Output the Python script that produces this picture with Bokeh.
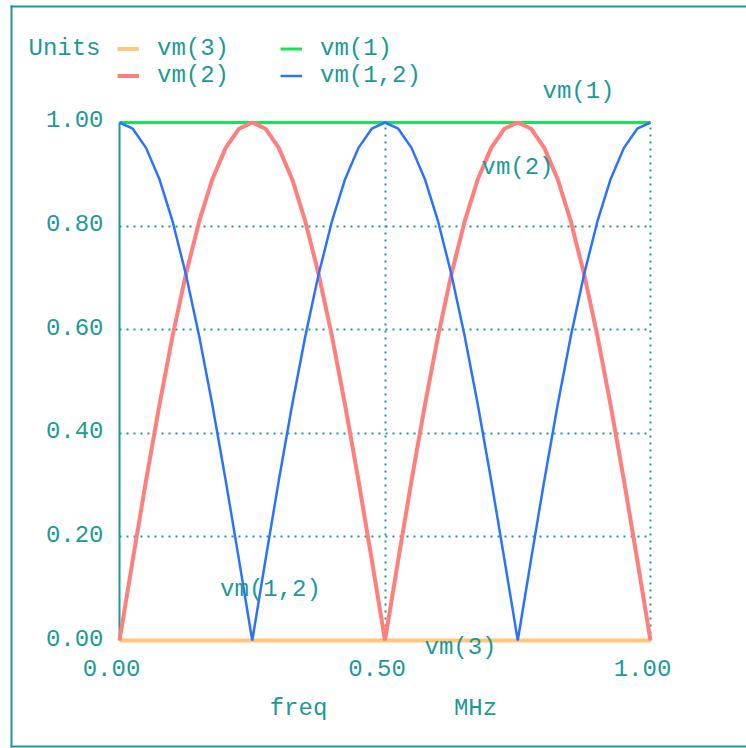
from bokeh.plotting import figure
from bokeh.models import (Range1d, FixedTicker, Label, Legend, LegendItem,
                          BoxAnnotation, ColumnDataSource, Grid)
from bokeh.core.properties import value
from bokeh.embed import file_html
from bokeh.resources import INLINE

# ---- data ----
freq = [0.000, 0.025, 0.050, 0.075, 0.100, 0.125, 0.150, 0.175, 0.200, 0.225,
        0.250, 0.275, 0.300, 0.325, 0.350, 0.375, 0.400, 0.425, 0.450, 0.475,
        0.500, 0.525, 0.550, 0.575, 0.600, 0.625, 0.650, 0.675, 0.700, 0.725,
        0.750, 0.775, 0.800, 0.825, 0.850, 0.875, 0.900, 0.925, 0.950, 0.975,
        1.000]
vm2 = [0.000, 0.156, 0.309, 0.454, 0.588, 0.707, 0.809, 0.891, 0.951, 0.988,
       1.000, 0.988, 0.951, 0.891, 0.809, 0.707, 0.588, 0.454, 0.309, 0.156,
       0.000, 0.156, 0.309, 0.454, 0.588, 0.707, 0.809, 0.891, 0.951, 0.988,
       1.000, 0.988, 0.951, 0.891, 0.809, 0.707, 0.588, 0.454, 0.309, 0.156,
       0.000]
vm12 = [1.000, 0.988, 0.951, 0.891, 0.809, 0.707, 0.588, 0.454, 0.309, 0.156,
        0.000, 0.156, 0.309, 0.454, 0.588, 0.707, 0.809, 0.891, 0.951, 0.988,
        1.000, 0.988, 0.951, 0.891, 0.809, 0.707, 0.588, 0.454, 0.309, 0.156,
        0.000, 0.156, 0.309, 0.454, 0.588, 0.707, 0.809, 0.891, 0.951, 0.988,
        1.000]
flat_freq = [0.0, 1.0]
vm1 = [1.0, 1.0]
vm3 = [0.0, 0.0]

x_ticks = [0.0, 0.5, 1.0]
x_tick_labels = ["0.00", "0.50", "1.00"]
y_ticks = [0.0, 0.2, 0.4, 0.6, 0.8, 1.0]
y_tick_labels = ["0.00", "0.20", "0.40", "0.60", "0.80", "1.00"]

# ---- styling ----
TEAL = "#1d9a95"
FONT = "Liberation Mono"
FS = "24px"

# the frame covers the whole window; 0..1 maps to the reference plot box
p = figure(frame_width=746, frame_height=748,
           x_range=Range1d(-0.22411, 1.18079), y_range=Range1d(-0.20849, 1.23552),
           x_axis_type=None, y_axis_type=None,
           output_backend="svg", toolbar_location=None, min_border=0)
p.outline_line_color = None
p.background_fill_color = "white"
p.border_fill_color = "white"

# dotted grid, limited to the 0..1 box
def add_grid(dim, ticks):
    g = Grid(dimension=dim, ticker=FixedTicker(ticks=ticks),
             grid_line_color=TEAL, grid_line_width=2, grid_line_dash="2 5")
    if "cross_bounds" in Grid.properties():
        g.cross_bounds = (0, 1)
        p.add_layout(g)
    else:
        if dim == 0:
            p.segment(x0=ticks, x1=ticks, y0=[y_ticks[0]] * len(ticks),
                      y1=[y_ticks[-1]] * len(ticks), line_color=TEAL,
                      line_width=2, line_dash="2 5")
        else:
            p.segment(y0=ticks, y1=ticks, x0=[x_ticks[0]] * len(ticks),
                      x1=[x_ticks[-1]] * len(ticks), line_color=TEAL,
                      line_width=2, line_dash="2 5")

add_grid(0, x_ticks[1:])
add_grid(1, y_ticks[1:-1])

# left axis line
p.line(x=[x_ticks[0], x_ticks[0]], y=[y_ticks[0], y_ticks[-1]],
       line_color=TEAL, line_width=2)

# tick labels
p.text(x=[x_ticks[0]] * len(y_ticks), y=y_ticks, text=y_tick_labels,
       x_offset=-16, y_offset=-3, text_align="right", text_baseline="middle",
       text_font=value(FONT), text_font_size=FS, text_color=TEAL)
p.text(x=x_ticks, y=[y_ticks[0]] * len(x_ticks), text=x_tick_labels,
       x_offset=-8, y_offset=27, text_align="center", text_baseline="middle",
       text_font=value(FONT), text_font_size=FS, text_color=TEAL)

src = ColumnDataSource(data=dict(freq=freq, vm2=vm2, vm12=vm12))
src_flat = ColumnDataSource(data=dict(freq=flat_freq, vm1=vm1, vm3=vm3))

r1 = p.line("freq", "vm1", source=src_flat, line_color="#10e850", line_width=3)
r3 = p.line("freq", "vm3", source=src_flat, line_color="#ffc57a", line_width=4)
r2 = p.line("freq", "vm2", source=src, line_color="#ff7f7f", line_width=4)
r12 = p.line("freq", "vm12", source=src, line_color="#2a72ff", line_width=2.5)

# legends (two columns)
leg_common = dict(label_text_font=FONT, label_text_font_size=FS,
                  label_text_color=TEAL, label_text_baseline="middle",
                  background_fill_alpha=0, border_line_alpha=0,
                  padding=0, margin=0, spacing=0, glyph_width=22,
                  glyph_height=25, label_height=25, label_standoff=18)
leg1 = Legend(items=[LegendItem(label="vm(3)", renderers=[r3]),
                     LegendItem(label="vm(2)", renderers=[r2])],
              location=(117, 659), **leg_common)
leg2 = Legend(items=[LegendItem(label="vm(1)", renderers=[r1]),
                     LegendItem(label="vm(1,2)", renderers=[r12])],
              location=(280, 659), **leg_common)
p.add_layout(leg1)
p.add_layout(leg2)

def lab(x, y, t, align="center"):
    p.add_layout(Label(x=x, y=y, text=t, text_font=FONT, text_font_size=FS,
                       text_color=TEAL, text_align=align,
                       text_baseline="middle"))

lab(-0.1714, 1.1429, "Units", "left")
lab(0.8644, 1.0598, "vm(1)")
lab(0.7495, 0.9131, "vm(2)")
lab(0.2844, 0.0985, "vm(1,2)")
lab(0.6422, -0.0135, "vm(3)")
lab(0.3371, -0.1313, "freq")
lab(0.6704, -0.1313, "MHz")

# outer window frame: left, top and bottom edges (the right edge lies off-screen)
def strip(l, r, t, b):
    p.add_layout(BoxAnnotation(left=l, right=r, top=t, bottom=b,
                               left_units="canvas", right_units="canvas",
                               top_units="canvas", bottom_units="canvas",
                               fill_color=TEAL, fill_alpha=1.0,
                               line_alpha=0, level="overlay"))

strip(10, 12, 5, 747)
strip(10, 746, 5, 7)
strip(10, 746, 745, 747)

open("out.html", "w").write(file_html(p, INLINE))
